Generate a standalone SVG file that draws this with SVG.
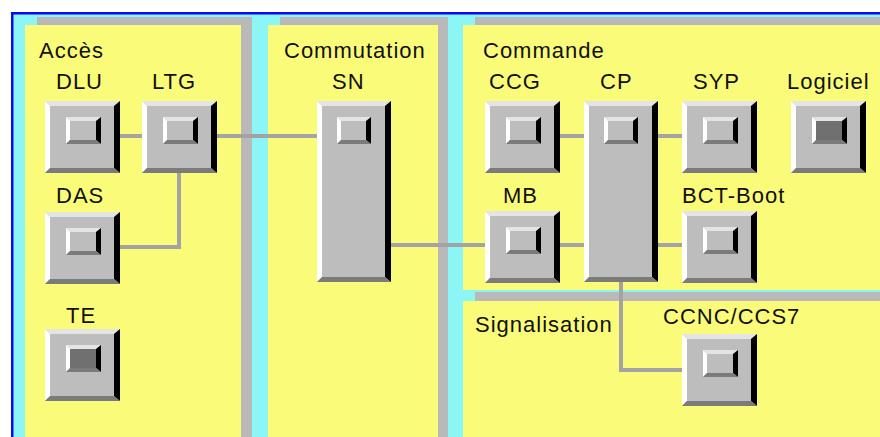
<svg xmlns="http://www.w3.org/2000/svg" xmlns:xlink="http://www.w3.org/1999/xlink" width="880" height="437" viewBox="0 0 880 437">
<style>
  .cyan{fill:#8cf6f6}
  .shadow{fill:#b9b9b9}
  .panel{fill:#fbfb7a}
  .lbl{font-family:"Liberation Sans",Arial,sans-serif;font-size:22px;letter-spacing:1px;fill:#111}
  .conn{stroke:#a3a3a3;stroke-width:4;fill:none}
  .face{fill:#bdbdbd}
  .hl{fill:#e4e4e4}
  .wh{fill:#ffffff}
  .bk{fill:#000000}
  .dk{fill:#7b7b7b}
  .dface{fill:#707070}
</style>
<defs>
  <g id="btn">
    <rect class="face" x="0" y="0" width="75" height="72"/>
    <polygon class="hl" points="0,0 75,0 69,5 5,5"/>
    <polygon class="wh" points="0,0 5,5 5,67 0,72"/>
    <polygon class="bk" points="75,0 75,72 69,67 69,5"/>
    <polygon class="dk" points="0,72 5,67 69,67 75,72"/>
    <polygon class="hl" points="21,16 56,16 51,20 25,20"/>
    <polygon class="wh" points="21,16 25,20 25,39 21,43"/>
    <polygon class="bk" points="56,16 56,43 51,39 51,20"/>
    <polygon class="dk" points="21,43 25,39 51,39 56,43"/>
  </g>
  <g id="btnLight">
    <use xlink:href="#btn"/>
    <rect class="face" x="25" y="20" width="26" height="19"/>
  </g>
  <g id="btnDark">
    <use xlink:href="#btn"/>
    <rect class="dface" x="25" y="20" width="26" height="19"/>
  </g>
  <g id="tall">
    <rect class="face" x="0" y="0" width="74" height="181"/>
    <polygon class="hl" points="0,0 74,0 68,5 5,5"/>
    <polygon class="wh" points="0,0 5,5 5,176 0,181"/>
    <polygon class="bk" points="74,0 74,181 68,176 68,5"/>
    <polygon class="dk" points="0,181 5,176 68,176 74,181"/>
    <polygon class="hl" points="20,16 54,16 49,20 24,20"/>
    <polygon class="wh" points="20,16 24,20 24,39 20,43"/>
    <polygon class="bk" points="54,16 54,43 49,39 49,20"/>
    <polygon class="dk" points="20,43 24,39 49,39 54,43"/>
    <rect class="face" x="24" y="20" width="25" height="19"/>
  </g>
</defs>

<rect x="0" y="0" width="880" height="437" fill="#ffffff"/>
<g id="background">
  <rect class="cyan" x="12" y="13" width="868" height="424"/>
  <rect x="11" y="12" width="869" height="2.5" fill="#0a0af0"/>
  <rect x="11" y="12" width="2.5" height="425" fill="#0a0af0"/>
</g>

<g id="panel-acces">
  <rect class="shadow" x="37" y="17" width="215" height="420"/>
  <rect class="panel" x="25" y="25" width="216" height="412"/>
  <text class="lbl" x="39" y="58">Accès</text>
</g>
<g id="panel-commutation">
  <rect class="shadow" x="280" y="17" width="168" height="420"/>
  <rect class="panel" x="268" y="25" width="170" height="412"/>
  <text class="lbl" x="284" y="58">Commutation</text>
</g>
<g id="panel-commande">
  <rect class="shadow" x="475" y="17" width="405" height="273"/>
  <rect class="panel" x="463" y="25" width="417" height="265"/>
  <text class="lbl" x="483" y="58">Commande</text>
</g>
<g id="panel-signalisation">
  <rect class="shadow" x="475" y="292" width="405" height="145"/>
  <rect class="panel" x="463" y="301" width="417" height="136"/>
  <text class="lbl" x="475" y="332">Signalisation</text>
</g>

<g id="connectors">
  <line class="conn" x1="120" y1="136" x2="142" y2="136"/>
  <line class="conn" x1="217" y1="136" x2="317" y2="136"/>
  <polyline class="conn" points="179,172 179,247 120,247"/>
  <line class="conn" x1="390" y1="245" x2="485" y2="245"/>
  <line class="conn" x1="560" y1="136" x2="584" y2="136"/>
  <line class="conn" x1="658" y1="136" x2="682" y2="136"/>
  <line class="conn" x1="560" y1="245" x2="584" y2="245"/>
  <line class="conn" x1="658" y1="245" x2="682" y2="245"/>
  <polyline class="conn" points="621,281 621,370 682,370"/>
</g>

<g id="node-dlu">
  <text class="lbl" x="56" y="89">DLU</text>
  <use xlink:href="#btnLight" x="45" y="101"/>
</g>
<g id="node-ltg">
  <text class="lbl" x="152" y="89">LTG</text>
  <use xlink:href="#btnLight" x="142" y="101"/>
</g>
<g id="node-das">
  <text class="lbl" x="56" y="203">DAS</text>
  <use xlink:href="#btnLight" x="45" y="212"/>
</g>
<g id="node-te">
  <text class="lbl" x="66" y="323">TE</text>
  <use xlink:href="#btnDark" x="45" y="329"/>
</g>
<g id="node-sn">
  <text class="lbl" x="332" y="89">SN</text>
  <use xlink:href="#tall" x="317" y="101"/>
</g>
<g id="node-ccg">
  <text class="lbl" x="489" y="89">CCG</text>
  <use xlink:href="#btnLight" x="485" y="101"/>
</g>
<g id="node-mb">
  <text class="lbl" x="503" y="203">MB</text>
  <use xlink:href="#btnLight" x="485" y="211"/>
</g>
<g id="node-cp">
  <text class="lbl" x="600" y="89">CP</text>
  <use xlink:href="#tall" x="584" y="101"/>
</g>
<g id="node-syp">
  <text class="lbl" x="693" y="89">SYP</text>
  <use xlink:href="#btnLight" x="682" y="101"/>
</g>
<g id="node-logiciel">
  <text class="lbl" x="787" y="89">Logiciel</text>
  <use xlink:href="#btnDark" x="791" y="101"/>
</g>
<g id="node-bct-boot">
  <text class="lbl" x="682" y="203">BCT-Boot</text>
  <use xlink:href="#btnLight" x="682" y="211"/>
</g>
<g id="node-ccnc">
  <text class="lbl" x="663" y="324">CCNC/CCS7</text>
  <use xlink:href="#btnLight" x="682" y="334"/>
</g>
</svg>
